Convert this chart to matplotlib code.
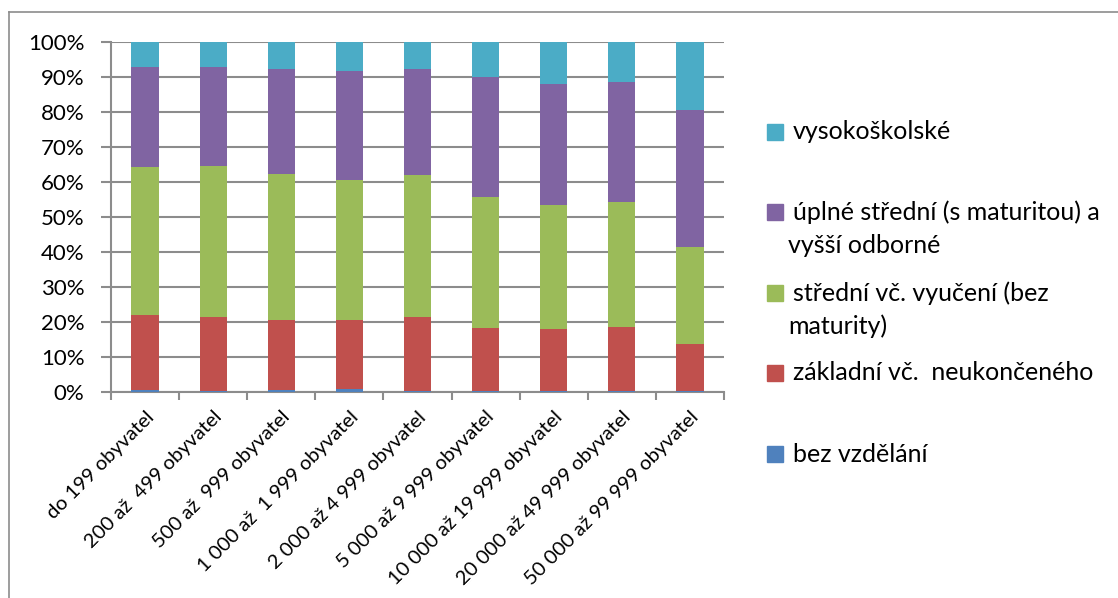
import matplotlib
matplotlib.use("Agg")
import matplotlib.pyplot as plt
import matplotlib.transforms as mtransforms
from matplotlib.lines import Line2D
from matplotlib.patches import Rectangle
import numpy as np

plt.rcParams['font.family'] = ['Lato', 'DejaVu Sans']

categories = ["do 199 obyvatel", "200 až  499 obyvatel", "500 až  999 obyvatel",
              "1 000 až  1 999 obyvatel", "2 000 až 4 999 obyvatel", "5 000 až 9 999 obyvatel",
              "10 000 až 19 999 obyvatel", "20 000 až 49 999 obyvatel", "50 000 až 99 999 obyvatel"]

bez_vzdelani = [0.7, 0.4, 0.5, 0.9, 0.4, 0.2, 0.2, 0.2, 0.2]
zakladni = [21.3, 21.0, 20.0, 19.7, 21.0, 18.1, 17.8, 18.5, 13.4]
stredni_vyuceni = [42.4, 43.1, 41.9, 40.0, 40.6, 37.5, 35.4, 35.5, 27.8]
uplne_stredni = [28.4, 28.5, 30.0, 31.0, 30.4, 34.1, 34.7, 34.3, 39.2]
vysokoskolske = [7.2, 7.0, 7.6, 8.4, 7.6, 10.1, 11.9, 11.5, 19.4]

series = [
    ("bez vzdělání", bez_vzdelani, "#4F81BD"),
    ("základní vč.  neukončeného", zakladni, "#C0504D"),
    ("střední vč. vyučení (bez\nmaturity)", stredni_vyuceni, "#9BBB59"),
    ("úplné střední (s maturitou) a\nvyšší odborné", uplne_stredni, "#8064A2"),
    ("vysokoškolské", vysokoskolske, "#4BACC6"),
]

W, H = 1118, 598
fig = plt.figure(figsize=(W / 100, H / 100), dpi=100)
ax = fig.add_axes([111 / W, 1 - 392 / H, (724 - 111) / W, (392 - 42) / H])

x = np.arange(len(categories))
bottom = np.zeros(len(categories))
for name, vals, col in series:
    v = np.array(vals, dtype=float)
    ax.bar(x, v, width=0.4, bottom=bottom, color=col, edgecolor='none', zorder=3)
    bottom += v

grid_col = '#8c8c8c'
ax.set_xlim(-0.5, len(categories) - 0.5)
ax.set_ylim(0, 100)
ax.set_yticks(np.arange(0, 101, 10))
ax.set_yticklabels([f"{t}%" for t in range(0, 101, 10)], fontsize=16)
ax.yaxis.grid(True, color=grid_col, linewidth=1.5, zorder=0)
ax.set_axisbelow(True)
for s in ['top', 'right']:
    ax.spines[s].set_visible(False)
for s in ['left', 'bottom']:
    ax.spines[s].set_color(grid_col)
    ax.spines[s].set_linewidth(1.5)
ax.tick_params(axis='y', length=7, width=1.5, color=grid_col, pad=12)

ax.set_xticks(x)
ax.set_xticks(np.arange(-0.5, len(categories), 1.0), minor=True)
ax.tick_params(axis='x', which='major', length=0, pad=16)
ax.tick_params(axis='x', which='minor', length=6, width=1.5, color=grid_col)
ax.set_xticklabels(categories, rotation=45, ha='right', va='center',
                   rotation_mode='anchor', fontsize=14.5)
offset = mtransforms.ScaledTranslation(6 / 100, 0, fig.dpi_scale_trans)
for lab in ax.get_xticklabels():
    lab.set_transform(lab.get_transform() + offset)

# legend (manual, top entry = last series)
leg_y = [131.5, 212, 293, 373, 454]
for (name, vals, col), yc in zip(series[::-1], leg_y):
    fig.patches.append(Rectangle(((767) / W, 1 - (yc + 8) / H), 16 / W, 16 / H,
                                 transform=fig.transFigure, color=col))
    lines = name.split("\n")
    fig.text(793 / W, 1 - yc / H, lines[0], fontsize=18, va='center', ha='left')
    if len(lines) > 1:
        fig.text(788 / W, 1 - (yc + 33) / H, lines[1], fontsize=18, va='center', ha='left')

# chart-area border
fig.add_artist(Line2D([9 / W, 1.0], [1 - 12 / H, 1 - 12 / H], transform=fig.transFigure,
                      color='#8c8c8c', linewidth=1.2))
fig.add_artist(Line2D([9 / W, 9 / W], [0.0, 1 - 12 / H], transform=fig.transFigure,
                      color='#8c8c8c', linewidth=1.2))

fig.savefig("out.png", dpi=100, facecolor='white')
